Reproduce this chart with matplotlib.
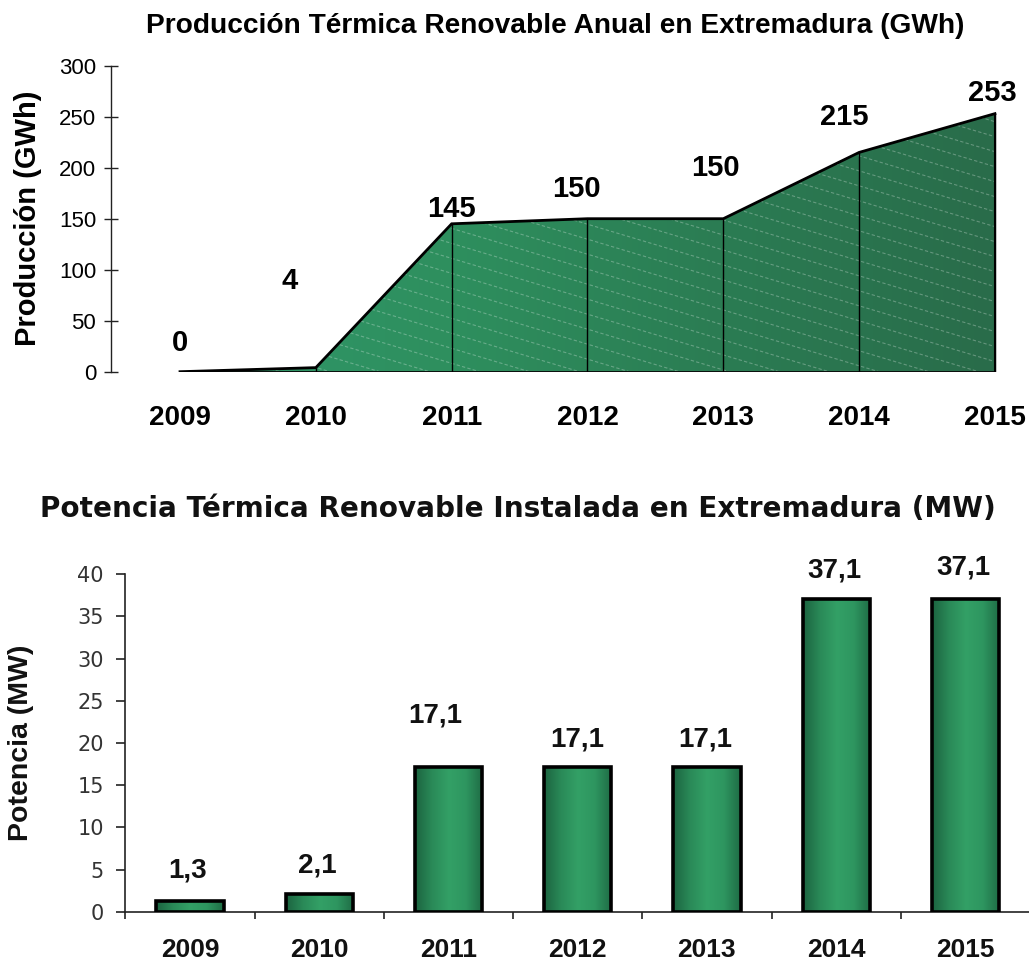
import matplotlib
matplotlib.use("Agg")
import matplotlib.pyplot as plt
import numpy as np
from matplotlib.patches import Polygon
from matplotlib.colors import LinearSegmentedColormap

plt.rcParams['font.family'] = ['Liberation Sans', 'DejaVu Sans']

# ---------------- data ----------------
years = ['2009', '2010', '2011', '2012', '2013', '2014', '2015']
produccion = [0, 4, 145, 150, 150, 215, 253]
potencia = [1.3, 2.1, 17.1, 17.1, 17.1, 37.1, 37.1]
potencia_labels = ['1,3', '2,1', '17,1', '17,1', '17,1', '37,1', '37,1']

title_top = 'Producción Térmica Renovable Anual en Extremadura (GWh)'
title_bot = 'Potencia Térmica Renovable Instalada en Extremadura (MW)'
ylabel_top = 'Producción (GWh)'
ylabel_bot = 'Potencia (MW)'

# label offsets (pixels): (dx, baseline dy)
top_label_off = [(0, 21), (-26, 79), (0, 7), (-11, 22), (-8, 43), (-15, 27), (-3, 13)]
bot_label_off = [(-2, 23), (-2, 21), (-13, 45), (0, 21), (-2, 21), (-2, 21), (-2, 24)]

W, H = 1029, 964
fig = plt.figure(figsize=(W / 100, H / 100), dpi=100)
renderer = fig.canvas.get_renderer()


def px_axes(left, right, top, bottom):
    return fig.add_axes([left / W, 1 - bottom / H, (right - left) / W, (bottom - top) / H])


def fit_width(txt, target_px):
    w = txt.get_window_extent(renderer=renderer).width
    txt.set_fontsize(txt.get_fontsize() * target_px / w)


# ---------------- top chart ----------------
ax1 = px_axes(111, 1000, 65.7, 371.7)
x = np.arange(len(years))
y = np.array(produccion, dtype=float)
ax1.set_xlim(-0.508, 6.037)
ax1.set_ylim(0, 300)

verts = list(zip(x, y)) + [(x[-1], 0), (x[0], 0)]
poly = Polygon(verts, closed=True, facecolor='none', edgecolor='none')
ax1.add_patch(poly)
cmap_area = LinearSegmentedColormap.from_list('area', ['#30976a', '#2e8f5e', '#2b7c53', '#296c4a'])
grad = np.linspace(0, 1, 256).reshape(1, -1)
im = ax1.imshow(grad, extent=[x[0], x[-1], 0, 300], aspect='auto', cmap=cmap_area,
                origin='lower', zorder=1, interpolation='bicubic')
im.set_clip_path(poly)

# faint dashed diagonal lines inside the area
slope = -40.0
xs = np.array([x[0], x[-1]])
for c in np.arange(0, 300 + 40 * 6 + 15, 14.7):
    ln, = ax1.plot(xs, c + slope * (xs - x[0]), color='white', alpha=0.28, lw=0.8,
                   ls=(0, (3, 2)), zorder=2)
    ln.set_clip_path(poly)

ax1.vlines(x[1:], 0, y[1:], color='black', lw=1.0, zorder=3)
ax1.plot(x, y, color='black', lw=2.0, zorder=4, solid_joinstyle='miter')
ax1.hlines(0, x[0], x[-1], color='black', lw=2.0, zorder=4)
ax1.vlines(x[-1], 0, y[-1], color='black', lw=1.5, zorder=4)

for i, (val, (dx, dy)) in enumerate(zip(produccion, top_label_off)):
    ax1.annotate(str(val), (x[i], y[i]), xytext=(dx, dy), textcoords='offset pixels',
                 ha='center', va='baseline', fontsize=21, fontweight='bold', color='black')

for s in ['top', 'right', 'bottom']:
    ax1.spines[s].set_visible(False)
ax1.spines['left'].set_color('#222222')
ax1.spines['left'].set_linewidth(1.0)
ax1.set_yticks(np.arange(0, 301, 50))
ax1.tick_params(axis='y', direction='inout', length=9.4, width=1.0, color='#222222',
                labelsize=16, pad=6)
ax1.set_xticks(x)
ax1.set_xticklabels(years, fontsize=20, fontweight='bold')
ax1.tick_params(axis='x', length=0, pad=24)

t1 = fig.text(555 / W, 1 - 33 / H, title_top, ha='center', va='baseline', fontsize=18,
              fontweight='bold')
fit_width(t1, 820)
fig.text(28 / W, 1 - 218.7 / H, ylabel_top, rotation=90, ha='center', va='center',
         fontsize=21, fontweight='bold')

# ---------------- bottom chart ----------------
ax2 = px_axes(125.4, 1030, 574.3, 911.7)
xb = np.arange(len(years))
bars = ax2.bar(xb, potencia, width=0.52, facecolor='none', edgecolor='black',
               linewidth=2.6, zorder=4)
cmap_bar = LinearSegmentedColormap.from_list('bar', ['#1c6440', '#2a8a58', '#33a066',
                                                      '#2e9660', '#1f6c45'])
bgrad = np.linspace(0, 1, 128).reshape(1, -1)
for b in bars:
    bx, bw, bh = b.get_x(), b.get_width(), b.get_height()
    imb = ax2.imshow(bgrad, extent=[bx, bx + bw, 0, bh], aspect='auto', cmap=cmap_bar,
                     origin='lower', zorder=3, interpolation='bicubic')
    imb.set_clip_path(b)
ax2.set_xlim(-0.5, 6.5)
ax2.set_ylim(0, 40)

for i, (lab, (dx, dy)) in enumerate(zip(potencia_labels, bot_label_off)):
    ax2.annotate(lab, (xb[i], potencia[i]), xytext=(dx, dy), textcoords='offset pixels',
                 ha='center', va='baseline', fontsize=20, fontweight='bold', color='#111111')

for s in ['top', 'right']:
    ax2.spines[s].set_visible(False)
for s in ['left', 'bottom']:
    ax2.spines[s].set_color('#222222')
    ax2.spines[s].set_linewidth(1.2)
ax2.set_yticks(np.arange(0, 41, 5))
ax2.tick_params(axis='y', direction='out', length=6.5, width=1.2, color='#222222',
                labelsize=15, labelcolor='#333333', pad=9)
for lab in ax2.get_yticklabels():
    lab.set_family('DejaVu Sans')
ax2.set_xticks(xb)
ax2.set_xticklabels(years, fontsize=19, fontweight='bold', color='#111111')
ax2.set_xticks(np.arange(-0.5, 6.6, 1.0), minor=True)
ax2.tick_params(axis='x', which='major', length=0, pad=19)
ax2.tick_params(axis='x', which='minor', direction='out', length=5, width=1.2,
                color='#222222')

t2 = fig.text(517.5 / W, 1 - 517 / H, title_bot, ha='center', va='baseline', fontsize=18,
              fontweight='bold', color='#111111', family='DejaVu Sans')
fit_width(t2, 955)
fig.text(21 / W, 1 - 743 / H, ylabel_bot, rotation=90, ha='center', va='center',
         fontsize=20.5, fontweight='bold', color='#111111')

fig.savefig('out.png', dpi=100)
